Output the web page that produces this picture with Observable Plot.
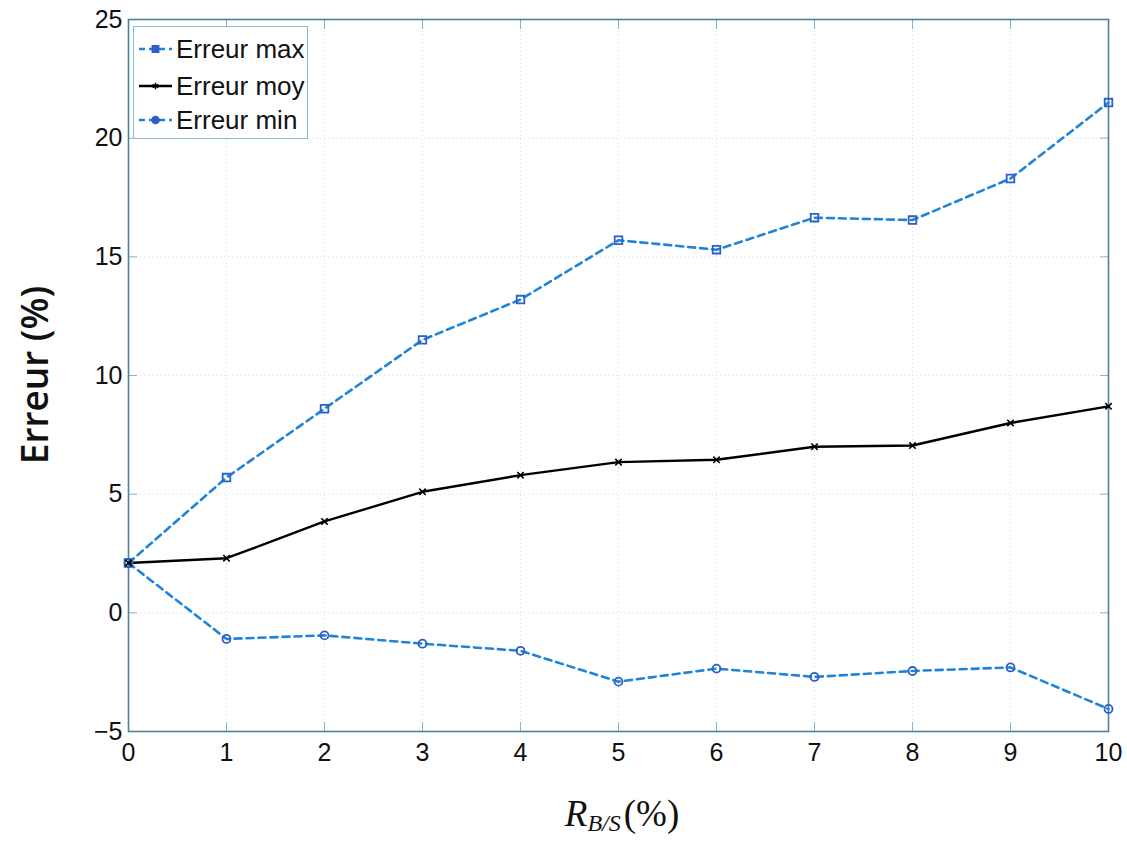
<!DOCTYPE html>
<html>
<head>
<meta charset="utf-8">
<script src="https://cdn.jsdelivr.net/npm/d3@7"></script>
<script src="https://cdn.jsdelivr.net/npm/@observablehq/plot@0.6"></script>
<style>
  html, body { margin: 0; padding: 0; background: #fff; }
  #wrap { position: relative; width: 1127px; height: 841px; overflow: hidden; }
  #ylab { position: absolute; left: 33px; top: 375px; transform: translate(-50%, -50%) rotate(-90deg);
          font-family: "Open Sans", sans-serif; font-weight: 600; font-size: 37px; color: #111; white-space: nowrap; }
  #xlab { position: absolute; left: 622px; top: 795px; transform: translateX(-50%);
          font-family: "Liberation Serif", "Times New Roman", serif; color: #111; white-space: nowrap; line-height: 1; }
  #xlab .r { font-style: italic; font-size: 37px; }
  #xlab sub { font-style: italic; font-size: 24px; vertical-align: -5px; margin-right: 3px; line-height: 1; }
  #xlab .p { font-size: 37px; }
  #legend { position: absolute; left: 133px; top: 26px; width: 175px; height: 113px; box-sizing: border-box;
            border: 1.5px solid #8db9cf; background: #fff; }
  #legend .row { position: absolute; left: 0; height: 30px; width: 175px; }
  #legend svg { position: absolute; left: 3px; top: 0; }
  #legend span { position: absolute; left: 42px; top: 0; line-height: 30px;
                 font-family: "Liberation Sans", Arial, sans-serif; font-size: 26px; color: #111; }
</style>
</head>
<body>
<div id="wrap"></div>
<script>
// ---- data ----
const rbs = [0, 1, 2, 3, 4, 5, 6, 7, 8, 9, 10];
const errMax = [2.1, 5.7, 8.6, 11.5, 13.2, 15.7, 15.3, 16.65, 16.55, 18.3, 21.5];
const errMoy = [2.1, 2.3, 3.85, 5.1, 5.8, 6.35, 6.45, 7.0, 7.05, 8.0, 8.7];
const errMin = [2.1, -1.1, -0.95, -1.3, -1.6, -2.9, -2.35, -2.7, -2.45, -2.3, -4.05];
const xTicks = [0, 1, 2, 3, 4, 5, 6, 7, 8, 9, 10];
const yTicks = [-5, 0, 5, 10, 15, 20, 25];
const seriesNames = ["Erreur max", "Erreur moy", "Erreur min"];

const rowsMax = rbs.map((x, i) => ({x, y: errMax[i]}));
const rowsMoy = rbs.map((x, i) => ({x, y: errMoy[i]}));
const rowsMin = rbs.map((x, i) => ({x, y: errMin[i]}));

const blue = "#1f84d8";
const markBlue = "#2d5fc4";
const tickCol = "#7db6d6";
const frameCol = "#4f8197";
const tickFont = {fontSize: 25, fontFamily: "'Liberation Sans', Arial, sans-serif", fill: "#111"};

const chart = Plot.plot({
  width: 1127,
  height: 841,
  marginLeft: 128,
  marginRight: 19,
  marginTop: 19,
  marginBottom: 110,
  style: {background: "#fff", fontFamily: "'Liberation Sans', Arial, sans-serif", fontSize: "25px", color: "#111", overflow: "visible"},
  x: {domain: [0, 10]},
  y: {domain: [-5, 25]},
  marks: [
    Plot.gridX(xTicks, {stroke: "#c9dfec", strokeOpacity: 1, strokeDasharray: "1,3"}),
    Plot.gridY(yTicks, {stroke: "#c9dfec", strokeOpacity: 1, strokeDasharray: "1,3"}),
    // inward ticks
    Plot.axisX(xTicks, {anchor: "bottom", tickSize: -9, text: null, stroke: tickCol, label: null}),
    Plot.axisX(xTicks, {anchor: "top", tickSize: -9, text: null, stroke: tickCol, label: null}),
    Plot.axisY(yTicks, {anchor: "left", tickSize: -9, text: null, stroke: tickCol, label: null}),
    Plot.axisY(yTicks, {anchor: "right", tickSize: -9, text: null, stroke: tickCol, label: null}),
    // labels
    Plot.axisX(xTicks, {anchor: "bottom", tickSize: 0, tickPadding: 12, label: null, ...tickFont}),
    Plot.axisY(yTicks, {anchor: "left", tickSize: 0, tickPadding: 6, label: null, ...tickFont}),
    Plot.frame({stroke: frameCol, strokeWidth: 1.6}),
    // series
    Plot.line(rowsMax, {x: "x", y: "y", stroke: blue, strokeWidth: 2.6, strokeDasharray: "7,5"}),
    Plot.line(rowsMin, {x: "x", y: "y", stroke: blue, strokeWidth: 2.6, strokeDasharray: "7,5"}),
    Plot.line(rowsMoy, {x: "x", y: "y", stroke: "#000", strokeWidth: 2.4}),
    Plot.dot(rowsMax, {x: "x", y: "y", symbol: "square", r: 4.3, stroke: markBlue, strokeWidth: 1.8, fill: "none"}),
    Plot.dot(rowsMin, {x: "x", y: "y", symbol: "circle", r: 4, stroke: markBlue, strokeWidth: 1.8, fill: "none"}),
    Plot.dot(rowsMoy, {x: "x", y: "y", symbol: "times", r: 3, stroke: "#000", strokeWidth: 1.6})
  ]
});

const wrap = document.getElementById("wrap");
wrap.appendChild(chart);

// axis titles
const ylab = document.createElement("div");
ylab.id = "ylab";
ylab.textContent = "Erreur (%)";
wrap.appendChild(ylab);

const xlab = document.createElement("div");
xlab.id = "xlab";
xlab.innerHTML = '<span class="r">R</span><sub>B/S</sub><span class="p">(%)</span>';
wrap.appendChild(xlab);

// legend
const legend = document.createElement("div");
legend.id = "legend";
const legendSpec = [
  {name: seriesNames[0], stroke: blue, dash: "6,4", sym: "square", mstroke: markBlue},
  {name: seriesNames[1], stroke: "#000", dash: null, sym: "asterisk", mstroke: "#000"},
  {name: seriesNames[2], stroke: blue, dash: "6,4", sym: "circle", mstroke: markBlue}
];
const rowTops = [7, 44, 78];
legendSpec.forEach((s, i) => {
  const row = document.createElement("div");
  row.className = "row";
  row.style.top = rowTops[i] + "px";
  const ns = "http://www.w3.org/2000/svg";
  const svg = document.createElementNS(ns, "svg");
  svg.setAttribute("width", 36);
  svg.setAttribute("height", 30);
  const ln = document.createElementNS(ns, "line");
  ln.setAttribute("x1", 2); ln.setAttribute("x2", 35);
  ln.setAttribute("y1", 15); ln.setAttribute("y2", 15);
  ln.setAttribute("stroke", s.stroke);
  ln.setAttribute("stroke-width", s.dash ? 2.6 : 2.4);
  if (s.dash) ln.setAttribute("stroke-dasharray", s.dash);
  svg.appendChild(ln);
  const sym = s.sym === "square" ? d3.symbolSquare : s.sym === "circle" ? d3.symbolCircle : d3.symbolAsterisk;
  const p = document.createElementNS(ns, "path");
  p.setAttribute("d", d3.symbol(sym, s.sym === "asterisk" ? 30 : 40)());
  p.setAttribute("transform", "translate(18.5,15)");
  p.setAttribute("fill", s.sym === "asterisk" ? "none" : markBlue);
  p.setAttribute("stroke", s.mstroke);
  p.setAttribute("stroke-width", 1.5);
  svg.appendChild(p);
  row.appendChild(svg);
  const t = document.createElement("span");
  t.textContent = s.name;
  row.appendChild(t);
  legend.appendChild(row);
});
wrap.appendChild(legend);
</script>
</body>
</html>
